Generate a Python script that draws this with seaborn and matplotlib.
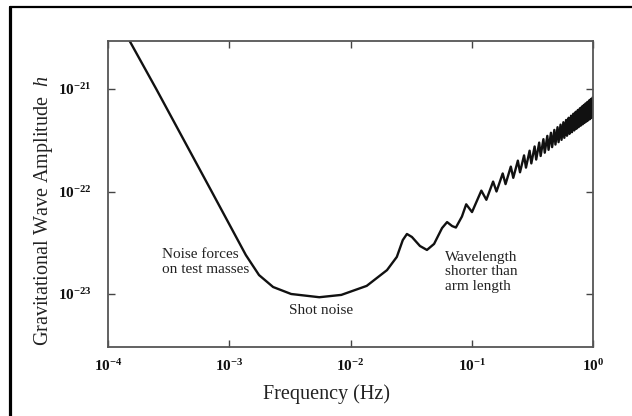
import numpy as np
import seaborn as sns
import matplotlib
matplotlib.use("Agg")
import matplotlib.pyplot as plt
from matplotlib.lines import Line2D
from matplotlib.ticker import FixedLocator, FuncFormatter, NullLocator

# sensitivity curve (frequency in Hz, strain amplitude h)
freq = [1.45e-4, 2.50e-4, 7.16e-4, 1.37e-3, 1.76e-3, 2.30e-3, 3.24e-3, 5.53e-3,
        8.4e-3, 1.36e-2, 2.0e-2, 2.41e-2, 2.70e-2, 2.92e-2, 3.21e-2, 3.74e-2,
        4.27e-2, 4.89e-2, 5.69e-2, 6.26e-2, 6.89e-2, 7.4e-2, 8.3e-2, 9.0e-2,
        1.005e-1, 1.2e-1, 1.32e-1,
        0.15, 0.16, 0.18, 0.19, 0.21, 0.22, 0.24, 0.25, 0.27, 0.28,
        0.30, 0.31, 0.33, 0.34, 0.36, 0.37, 0.39, 0.40, 0.42, 0.43,
        0.45, 0.46, 0.48, 0.49, 0.51, 0.52, 0.54, 0.55, 0.57, 0.58,
        0.60, 0.61, 0.63, 0.64, 0.66, 0.67, 0.69, 0.70, 0.72, 0.73,
        0.75, 0.76, 0.78, 0.79, 0.81, 0.82, 0.84, 0.85, 0.87, 0.88,
        0.90, 0.91, 0.93, 0.94, 0.96, 0.97, 0.99]
strain = [3.2e-21, 1.0e-21, 1.0e-22, 2.40e-23, 1.53e-23, 1.17e-23, 1.0e-23, 9.3e-24,
          9.8e-24, 1.2e-23, 1.71e-23, 2.3e-23, 3.36e-23, 3.85e-23, 3.6e-23, 2.94e-23,
          2.69e-23, 3.08e-23, 4.4e-23, 5.03e-23, 4.6e-23, 4.45e-23, 5.7e-23, 7.5e-23,
          6.3e-23, 1.02e-22, 8.3e-23,
          1.25e-22, 1.00e-22, 1.50e-22, 1.18e-22, 1.75e-22, 1.36e-22, 2.00e-22, 1.54e-22, 2.25e-22, 1.71e-22,
          2.50e-22, 1.88e-22, 2.75e-22, 2.05e-22, 3.00e-22, 2.22e-22, 3.24e-22, 2.39e-22, 3.49e-22, 2.55e-22,
          3.74e-22, 2.71e-22, 3.99e-22, 2.87e-22, 4.24e-22, 3.03e-22, 4.49e-22, 3.19e-22, 4.74e-22, 3.34e-22,
          4.99e-22, 3.50e-22, 5.24e-22, 3.65e-22, 5.49e-22, 3.79e-22, 5.74e-22, 3.94e-22, 5.99e-22, 4.09e-22,
          6.24e-22, 4.24e-22, 6.49e-22, 4.38e-22, 6.74e-22, 4.52e-22, 6.99e-22, 4.66e-22, 7.24e-22, 4.80e-22,
          7.49e-22, 4.94e-22, 7.74e-22, 5.07e-22, 7.99e-22, 5.21e-22, 8.24e-22]

xticks = [1e-4, 1e-3, 1e-2, 1e-1, 1e0]
yticks = [1e-23, 1e-22, 1e-21]

notes = ["Noise forces\non test masses", "Shot noise", "Wavelength\nshorter than\narm length"]
note_pos = [(2.79e-4, 2.05e-23), (5.7e-3, 6.98e-24), (6.0e-2, 1.64e-23)]
note_align = ["left", "center", "left"]

sns.set_theme(style="ticks")
plt.rcParams["font.family"] = ["Liberation Serif", "DejaVu Serif"]
plt.rcParams["mathtext.fontset"] = "custom"
plt.rcParams["mathtext.rm"] = "Liberation Serif"
plt.rcParams["mathtext.it"] = "Liberation Serif:italic"
plt.rcParams["mathtext.bf"] = "Liberation Serif:bold"

fig = plt.figure(figsize=(6.32, 4.16), dpi=100)
ax = fig.add_axes([108 / 632, 1 - 347 / 416, 485 / 632, 306 / 416])
ax.set_xscale("log")
ax.set_yscale("log")

sns.lineplot(x=freq, y=strain, ax=ax, color="#111111", lw=1.7, estimator=None)

ax.set_xlim(1e-4, 1e0)
ax.set_ylim(3.04e-24, 2.94e-21)
ax.xaxis.set_major_locator(FixedLocator(xticks))
ax.yaxis.set_major_locator(FixedLocator(yticks))
ax.xaxis.set_minor_locator(NullLocator())
ax.yaxis.set_minor_locator(NullLocator())
fmt = FuncFormatter(lambda v, p: r"$\mathbf{10^{%d}}$" % int(round(np.log10(v))))
ax.xaxis.set_major_formatter(fmt)
ax.yaxis.set_major_formatter(fmt)
ax.tick_params(which="both", direction="in", top=True, right=True, length=5,
               width=1.0, color="#444444", labelsize=11, labelcolor="#111111")
ax.tick_params(axis="x", pad=8)
ax.tick_params(axis="y", pad=12)
for s in ax.spines.values():
  s.set_color("#555555")
  s.set_linewidth(1.3)

ax.set_xlabel("Frequency (Hz)", fontsize=14.5, color="#222222")
ax.set_ylabel(r"Gravitational Wave Amplitude  $\it{h}$", fontsize=14.5, color="#222222")
ax.xaxis.set_label_coords(0.4515, -0.121)
ax.yaxis.set_label_coords(-0.11, 0.444)

for t, (x, y), ha in zip(notes, note_pos, note_align):
  ax.text(x, y, t, fontsize=11, color="#222222", ha=ha, va="center", linespacing=1.15)

# outer frame (only the top and left edges are visible)
fig.add_artist(Line2D([9.5 / 632, 1.0], [1 - 6.7 / 416, 1 - 6.7 / 416], color="black", lw=1.6,
                      transform=fig.transFigure))
fig.add_artist(Line2D([9.5 / 632, 9.5 / 632], [0.0, 1 - 6.7 / 416], color="black", lw=2.3,
                      transform=fig.transFigure))

fig.savefig("out.png", dpi=100)
